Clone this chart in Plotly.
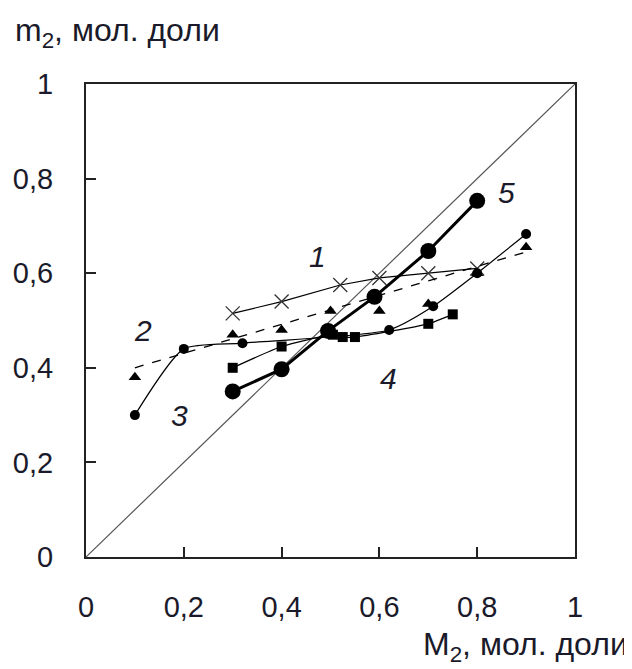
import plotly.graph_objects as go

# Series data (M2, m2)
s1_x = [0.3, 0.4, 0.52, 0.6, 0.7, 0.8]
s1_y = [0.515, 0.54, 0.575, 0.59, 0.60, 0.61]

s2_x = [0.1, 0.3, 0.4, 0.5, 0.6, 0.7, 0.8, 0.9]
s2_y = [0.38, 0.47, 0.48, 0.52, 0.52, 0.535, 0.60, 0.655]
s2_trend_x = [0.1, 0.9]
s2_trend_y = [0.40, 0.645]

s3_x = [0.1, 0.2, 0.32, 0.62, 0.71, 0.8, 0.9]
s3_y = [0.30, 0.44, 0.452, 0.48, 0.53, 0.60, 0.683]

s4_x = [0.3, 0.4, 0.505, 0.525, 0.55, 0.7, 0.75]
s4_y = [0.40, 0.445, 0.47, 0.465, 0.465, 0.493, 0.513]

s5_x = [0.3, 0.4, 0.495, 0.59, 0.7, 0.8]
s5_y = [0.35, 0.397, 0.478, 0.55, 0.647, 0.753]

diag = [0, 1]

curve_labels = ["1", "2", "3", "4", "5"]
label_x = [0.474, 0.117, 0.192, 0.618, 0.86]
label_y = [0.636, 0.478, 0.30, 0.378, 0.77]

ticks = [0, 0.2, 0.4, 0.6, 0.8, 1]
tick_text = ["0", "0,2", "0,4", "0,6", "0,8", "1"]

FONT = "Liberation Sans, Arial"
TXT = "#1a1a2a"

fig = go.Figure()
fig.add_trace(go.Scatter(x=diag, y=diag, mode="lines",
                         line=dict(color="#555555", width=1.2)))
fig.add_trace(go.Scatter(x=s1_x, y=s1_y, mode="lines+markers",
                         line=dict(color="black", width=1.2),
                         marker=dict(symbol="x-thin", size=14, line=dict(color="#333333", width=1.3))))
fig.add_trace(go.Scatter(x=s2_trend_x, y=s2_trend_y, mode="lines",
                         line=dict(color="black", width=1.3, dash="dash")))
fig.add_trace(go.Scatter(x=s2_x, y=s2_y, mode="markers",
                         marker=dict(symbol="triangle-up", size=11, color="black")))
fig.add_trace(go.Scatter(x=s3_x, y=s3_y, mode="lines+markers", line_shape="spline",
                         line=dict(color="black", width=1.2, smoothing=0.6),
                         marker=dict(symbol="circle", size=10, color="black")))
fig.add_trace(go.Scatter(x=s4_x, y=s4_y, mode="lines+markers", line_shape="spline",
                         line=dict(color="black", width=1.2, smoothing=0.5),
                         marker=dict(symbol="square", size=10, color="black")))
fig.add_trace(go.Scatter(x=s5_x, y=s5_y, mode="lines+markers",
                         line=dict(color="black", width=3),
                         marker=dict(symbol="circle", size=16, color="black")))

for t, lx, ly in zip(curve_labels, label_x, label_y):
    fig.add_annotation(x=lx, y=ly, text="<i>" + t + "</i>", showarrow=False,
                       font=dict(family=FONT, size=30, color=TXT))

fig.add_annotation(x=0, y=1, xref="paper", yref="paper", xshift=-73, yshift=52,
                   xanchor="left", yanchor="middle", showarrow=False,
                   text="m<sub>2</sub>, мол. доли",
                   font=dict(family=FONT, size=32, color=TXT))
fig.add_annotation(x=1, y=0, xref="paper", yref="paper", xshift=55, yshift=-89,
                   xanchor="right", yanchor="middle", showarrow=False,
                   text="M<sub>2</sub>, мол. доли",
                   font=dict(family=FONT, size=32, color=TXT))

axis_common = dict(range=[0, 1], tickvals=ticks, ticktext=tick_text,
                   ticks="inside", ticklen=10, tickwidth=2, tickcolor="#222222",
                   showline=True, linewidth=2, linecolor="#222222", mirror=True,
                   showgrid=False, zeroline=False, automargin=False,
                   tickfont=dict(family=FONT, size=29, color=TXT))
fig.update_xaxes(**axis_common)
fig.update_yaxes(**axis_common)
fig.update_xaxes(ticklabelstandoff=23)
fig.update_yaxes(ticklabelstandoff=25)

# page body has an 8px margin, so the figure is 8px smaller and margins shifted
fig.update_layout(width=624, height=661, showlegend=False,
                  plot_bgcolor="white", paper_bgcolor="white",
                  margin=dict(l=78, r=57, t=76, b=112, autoexpand=False))

fig.write_html("out.html")
